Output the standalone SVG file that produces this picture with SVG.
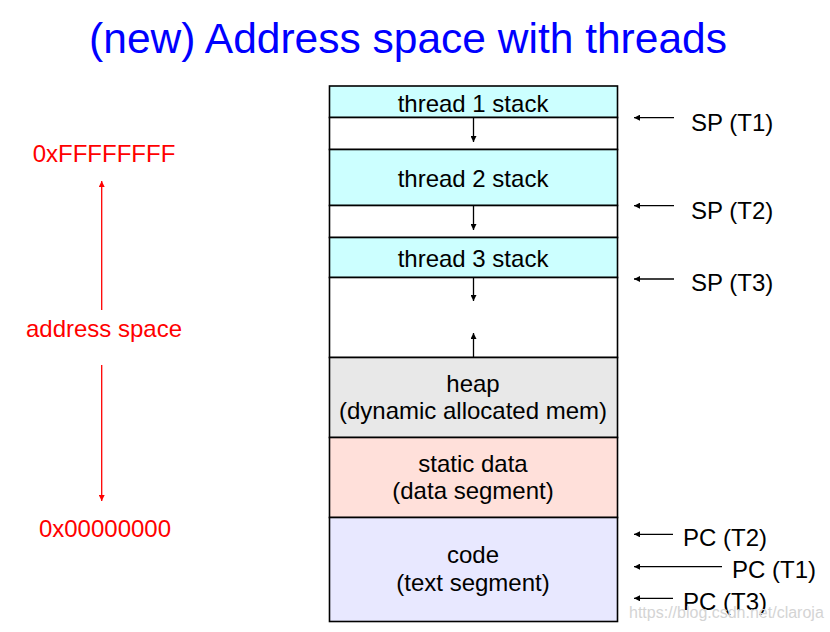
<svg xmlns="http://www.w3.org/2000/svg" width="830" height="632" viewBox="0 0 830 632">
<defs>
<style>
text{font-family:"Liberation Sans",Arial,sans-serif;font-size:24px;fill:#000}
.c{text-anchor:middle}
.red{fill:#ff0000}
.seg{stroke:#000;stroke-width:1.6}
.ln{stroke:#000;stroke-width:1.3;fill:none}
.rl{stroke:#ff0000;stroke-width:1.3;fill:none}
</style>
<marker id="ah" viewBox="0 0 10 10" refX="10" refY="5" markerWidth="8" markerHeight="6" markerUnits="userSpaceOnUse" orient="auto"><path d="M0,0L10,5L0,10z" fill="#000"/></marker>
<marker id="ahr" viewBox="0 0 10 10" refX="10" refY="5" markerWidth="8" markerHeight="6" markerUnits="userSpaceOnUse" orient="auto"><path d="M0,0L10,5L0,10z" fill="#ff0000"/></marker>
</defs>
<rect width="830" height="632" fill="#fff"/>
<text class="c" x="408" y="53" style="font-size:42.5px;fill:#0000ff">(new) Address space with threads</text>

<g id="t1stack"><rect class="seg" x="329.5" y="86" width="288" height="31.5" fill="#ccffff"/><text class="c" x="473" y="111.5">thread 1 stack</text></g>
<g id="t1free"><rect class="seg" x="329.5" y="117.5" width="288" height="32" fill="#fff"/></g>
<g id="t2stack"><rect class="seg" x="329.5" y="149.5" width="288" height="56" fill="#ccffff"/><text class="c" x="473" y="186.5">thread 2 stack</text></g>
<g id="t2free"><rect class="seg" x="329.5" y="205.5" width="288" height="32" fill="#fff"/></g>
<g id="t3stack"><rect class="seg" x="329.5" y="237.5" width="288" height="40" fill="#ccffff"/><text class="c" x="473" y="266.5">thread 3 stack</text></g>
<g id="free"><rect class="seg" x="329.5" y="277.5" width="288" height="80" fill="#fff"/></g>
<g id="heap"><rect class="seg" x="329.5" y="357.5" width="288" height="80" fill="#e8e8e8"/><text class="c" x="473" y="391.5">heap</text><text class="c" x="473" y="419.3">(dynamic allocated mem)</text></g>
<g id="static"><rect class="seg" x="329.5" y="437.5" width="288" height="80" fill="#ffe0da"/><text class="c" x="473" y="471.7">static data</text><text class="c" x="473" y="499.3">(data segment)</text></g>
<g id="code"><rect class="seg" x="329.5" y="517.5" width="288" height="104" fill="#e8e8ff"/><text class="c" x="473" y="562.7">code</text><text class="c" x="473" y="590.7">(text segment)</text></g>

<g id="connectors">
<line class="ln" x1="473.5" y1="118" x2="473.5" y2="142" marker-end="url(#ah)"/>
<line class="ln" x1="473.5" y1="206" x2="473.5" y2="230" marker-end="url(#ah)"/>
<line class="ln" x1="473.5" y1="278" x2="473.5" y2="301" marker-end="url(#ah)"/>
<line class="ln" x1="473.5" y1="357" x2="473.5" y2="333" marker-end="url(#ah)"/>
<line class="ln" x1="674" y1="117.7" x2="634" y2="117.7" marker-end="url(#ah)"/>
<line class="ln" x1="674" y1="205.7" x2="634" y2="205.7" marker-end="url(#ah)"/>
<line class="ln" x1="674" y1="279" x2="634" y2="279" marker-end="url(#ah)"/>
<line class="ln" x1="673" y1="534.3" x2="634" y2="534.3" marker-end="url(#ah)"/>
<line class="ln" x1="722" y1="566.7" x2="634" y2="566.7" marker-end="url(#ah)"/>
<line class="ln" x1="673" y1="598.3" x2="634" y2="598.3" marker-end="url(#ah)"/>
<line class="rl" x1="101.7" y1="310" x2="101.7" y2="181" marker-end="url(#ahr)"/>
<line class="rl" x1="101.7" y1="365" x2="101.7" y2="501" marker-end="url(#ahr)"/>
</g>

<g id="sp-labels">
<text x="691" y="131">SP (T1)</text>
<text x="691" y="218.5">SP (T2)</text>
<text x="691" y="291">SP (T3)</text>
</g>
<g id="pc-labels">
<text x="683" y="546">PC (T2)</text>
<text x="732" y="578.3">PC (T1)</text>
<text x="683" y="610">PC (T3)</text>
</g>
<g id="addr-labels">
<text class="c red" x="104" y="162">0xFFFFFFFF</text>
<text class="c red" x="104" y="337.3">address space</text>
<text class="c red" x="105" y="537.3">0x00000000</text>
</g>
<text x="629" y="618" style="font-size:16px;fill:#d4d4d4">https://blog.csdn.net/claroja</text>
</svg>
